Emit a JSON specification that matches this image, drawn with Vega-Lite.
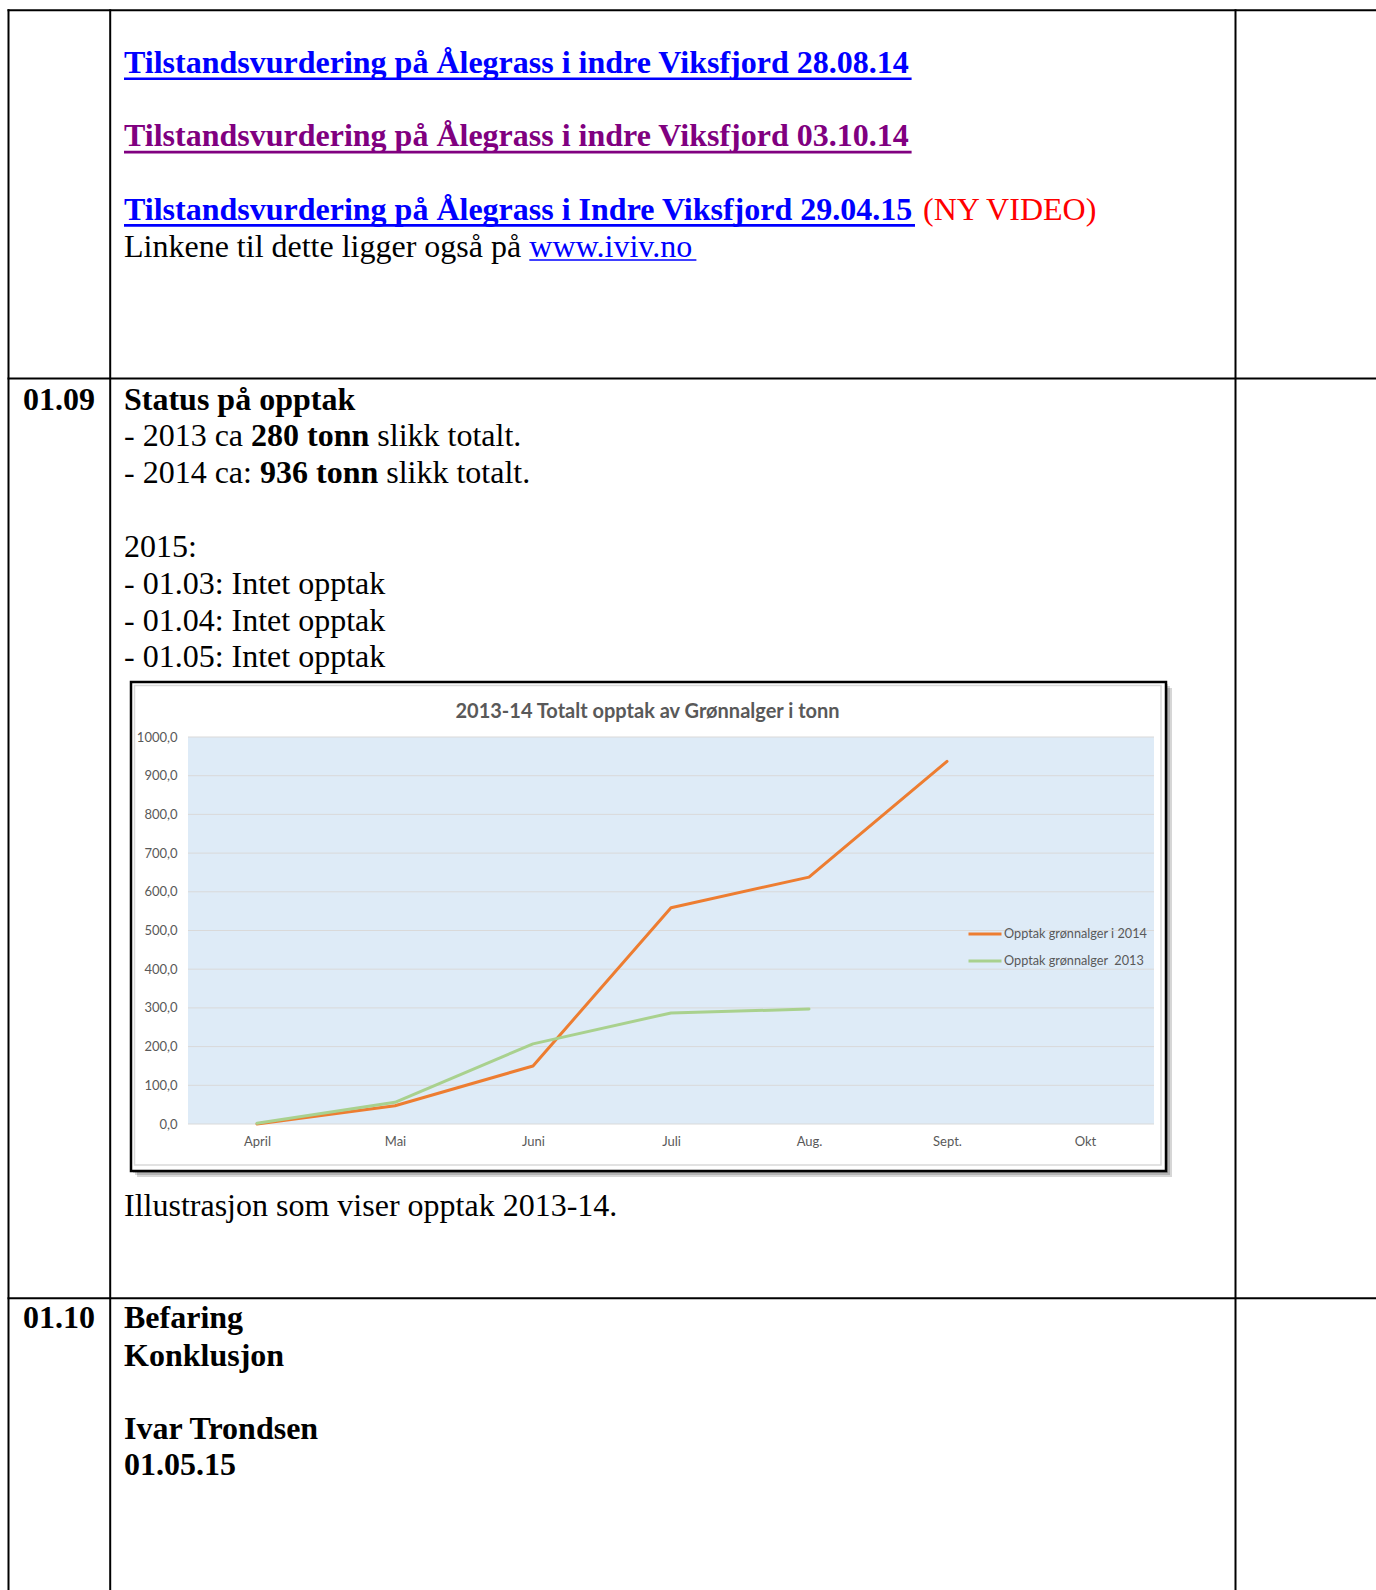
{
  "$schema": "https://vega.github.io/schema/vega-lite/v6.json",
  "width": 1376,
  "height": 1590,
  "padding": 0,
  "autosize": {"type": "none"},
  "background": "#ffffff",
  "config": {"view": {"stroke": null}},
  "datasets": {
    "series": [
      {"m": 0, "v": 0, "s": "Opptak grønnalger i 2014"},
      {"m": 1, "v": 47, "s": "Opptak grønnalger i 2014"},
      {"m": 2, "v": 150, "s": "Opptak grønnalger i 2014"},
      {"m": 3, "v": 559, "s": "Opptak grønnalger i 2014"},
      {"m": 4, "v": 638, "s": "Opptak grønnalger i 2014"},
      {"m": 5, "v": 937, "s": "Opptak grønnalger i 2014"},
      {"m": 0, "v": 2, "s": "Opptak grønnalger  2013"},
      {"m": 1, "v": 56, "s": "Opptak grønnalger  2013"},
      {"m": 2, "v": 207, "s": "Opptak grønnalger  2013"},
      {"m": 3, "v": 287, "s": "Opptak grønnalger  2013"},
      {"m": 4, "v": 297, "s": "Opptak grønnalger  2013"}
    ],
    "grid": [
      {"m": -0.5, "m2": 6.5, "v": 0}, {"m": -0.5, "m2": 6.5, "v": 100}, {"m": -0.5, "m2": 6.5, "v": 200},
      {"m": -0.5, "m2": 6.5, "v": 300}, {"m": -0.5, "m2": 6.5, "v": 400}, {"m": -0.5, "m2": 6.5, "v": 500},
      {"m": -0.5, "m2": 6.5, "v": 600}, {"m": -0.5, "m2": 6.5, "v": 700}, {"m": -0.5, "m2": 6.5, "v": 800},
      {"m": -0.5, "m2": 6.5, "v": 900}, {"m": -0.5, "m2": 6.5, "v": 1000}
    ],
    "plot": [{"m": -0.5, "m2": 6.5, "v": 0, "v2": 1000}],
    "table": [
      {"x": 8.5, "x2": 1376, "y": 10.2, "y2": 10.2},
      {"x": 8.5, "x2": 1376, "y": 378.5, "y2": 378.5},
      {"x": 8.5, "x2": 1376, "y": 1298.3, "y2": 1298.3},
      {"x": 8.5, "x2": 8.5, "y": 10.2, "y2": 1590},
      {"x": 110.2, "x2": 110.2, "y": 10.2, "y2": 1590},
      {"x": 1235.5, "x2": 1235.5, "y": 10.2, "y2": 1590}
    ],
    "shadow": [
      {"x": 133, "x2": 1168, "y": 684, "y2": 1173},
      {"x": 135, "x2": 1170, "y": 686, "y2": 1175},
      {"x": 137, "x2": 1172, "y": 688, "y2": 1177}
    ],
    "frame": [{"x": 131, "x2": 1166, "y": 682, "y2": 1171}],
    "inner": [{"x": 134.5, "x2": 1161, "y": 685.5, "y2": 1165}],
    "charttitle": [{"x": 647.5, "y": 718.3, "text": "2013-14 Totalt opptak av Grønnalger i tonn"}],
    "linkBlue": [
      {"line": 1.833, "x": 124, "x2": 911.6, "text": "Tilstandsvurdering på Ålegrass i indre Viksfjord 28.08.14"},
      {"line": 5.833, "x": 124, "x2": 915, "text": "Tilstandsvurdering på Ålegrass i Indre Viksfjord 29.04.15"}
    ],
    "linkPurple": [
      {"line": 3.833, "x": 124, "x2": 911.6, "text": "Tilstandsvurdering på Ålegrass i indre Viksfjord 03.10.14"}
    ],
    "linkPlain": [
      {"line": 6.85, "x": 529.3, "x2": 696.4, "text": "www.iviv.no"}
    ],
    "redText": [
      {"line": 5.833, "x": 923, "text": "(NY VIDEO)"}
    ],
    "plainText": [
      {"line": 6.85, "x": 124, "text": "Linkene til dette ligger også på"},
      {"line": 12, "x": 124, "text": "- 2013 ca"},
      {"line": 12, "x": 377.3, "text": "slikk totalt."},
      {"line": 13.02, "x": 124, "text": "- 2014 ca:"},
      {"line": 13.02, "x": 386.2, "text": "slikk totalt."},
      {"line": 15.04, "x": 124, "text": "2015:"},
      {"line": 16.04, "x": 124, "text": "- 01.03: Intet opptak"},
      {"line": 17.05, "x": 124, "text": "- 01.04: Intet opptak"},
      {"line": 18.05, "x": 124, "text": "- 01.05: Intet opptak"},
      {"line": 33.03, "x": 124, "text": "Illustrasjon som viser opptak 2013-14."}
    ],
    "boldText": [
      {"line": 11.02, "x": 23, "text": "01.09"},
      {"line": 11.02, "x": 124, "text": "Status på opptak"},
      {"line": 12, "x": 251.1, "text": "280 tonn"},
      {"line": 13.02, "x": 260, "text": "936 tonn"},
      {"line": 36.08, "x": 23, "text": "01.10"},
      {"line": 36.08, "x": 124, "text": "Befaring"},
      {"line": 37.1, "x": 124, "text": "Konklusjon"},
      {"line": 39.1, "x": 124, "text": "Ivar Trondsen"},
      {"line": 40.1, "x": 124, "text": "01.05.15"}
    ]
  },
  "layer": [
    {
      "data": {"name": "table"},
      "mark": {"type": "rule", "color": "#000000", "strokeWidth": 2, "strokeCap": "square"},
      "encoding": {
        "x": {"field": "x", "type": "quantitative", "scale": {"domain": [0, 1376], "range": [0, 1376], "nice": false, "zero": false}, "axis": null},
        "x2": {"field": "x2"},
        "y": {"field": "y", "type": "quantitative", "scale": {"domain": [0, 1590], "range": [0, 1590], "nice": false, "zero": false}, "axis": null},
        "y2": {"field": "y2"}
      }
    },
    {
      "data": {"name": "shadow"},
      "mark": {"type": "rect", "fill": "#000000", "fillOpacity": 0.16},
      "encoding": {
        "x": {"field": "x", "type": "quantitative", "scale": {"domain": [0, 1376], "range": [0, 1376], "nice": false, "zero": false}, "axis": null},
        "x2": {"field": "x2"},
        "y": {"field": "y", "type": "quantitative", "scale": {"domain": [0, 1590], "range": [0, 1590], "nice": false, "zero": false}, "axis": null},
        "y2": {"field": "y2"}
      }
    },
    {
      "data": {"name": "frame"},
      "mark": {"type": "rect", "fill": "#ffffff", "stroke": "#000000", "strokeWidth": 2.5},
      "encoding": {
        "x": {"field": "x", "type": "quantitative", "scale": {"domain": [0, 1376], "range": [0, 1376], "nice": false, "zero": false}, "axis": null},
        "x2": {"field": "x2"},
        "y": {"field": "y", "type": "quantitative", "scale": {"domain": [0, 1590], "range": [0, 1590], "nice": false, "zero": false}, "axis": null},
        "y2": {"field": "y2"}
      }
    },
    {
      "data": {"name": "inner"},
      "mark": {"type": "rect", "fill": null, "fillOpacity": 0, "stroke": "#D9D9D9", "strokeWidth": 1.5},
      "encoding": {
        "x": {"field": "x", "type": "quantitative", "scale": {"domain": [0, 1376], "range": [0, 1376], "nice": false, "zero": false}, "axis": null},
        "x2": {"field": "x2"},
        "y": {"field": "y", "type": "quantitative", "scale": {"domain": [0, 1590], "range": [0, 1590], "nice": false, "zero": false}, "axis": null},
        "y2": {"field": "y2"}
      }
    },
    {
      "encoding": {
        "x": {
          "field": "m", "type": "quantitative",
          "scale": {"domain": [-0.5, 6.5], "range": [188, 1154], "nice": false, "zero": false},
          "axis": {
            "orient": "bottom", "offset": -466, "title": null, "values": [0, 1, 2, 3, 4, 5, 6], "zindex": 2,
            "labelExpr": "['April','Mai','Juni','Juli','Aug.','Sept.','Okt'][datum.value]",
            "domain": false, "ticks": false, "tickSize": 0, "grid": false, "labelFlush": false, "labelOverlap": false,
            "labelBaseline": "alphabetic", "labelPadding": 21.5,
            "labelFont": "Lato", "labelFontSize": 13, "labelColor": "#595959"
          }
        },
        "y": {
          "field": "v", "type": "quantitative",
          "scale": {"domain": [0, 1000], "range": [1124, 737], "nice": false, "zero": false},
          "axis": {
            "orient": "left", "offset": -188, "title": null, "values": [0, 100, 200, 300, 400, 500, 600, 700, 800, 900, 1000], "zindex": 2,
            "labelExpr": "replace(format(datum.value, '.1f'), '.', ',')",
            "domain": false, "ticks": false, "tickSize": 0, "grid": false, "labelFlush": false, "labelOverlap": false,
            "labelPadding": 11, "labelFont": "Lato", "labelFontSize": 13, "labelColor": "#595959"
          }
        }
      },
      "layer": [
        {
          "data": {"name": "plot"},
          "mark": {"type": "rect", "fill": "#DEEBF7"},
          "encoding": {"x2": {"field": "m2"}, "y2": {"field": "v2"}}
        },
        {
          "data": {"name": "grid"},
          "mark": {"type": "rule", "color": "#D9D9D9", "strokeWidth": 1},
          "encoding": {"x2": {"field": "m2"}}
        },
        {
          "data": {"name": "series"},
          "transform": [{"filter": "datum.s == 'Opptak grønnalger i 2014'"}],
          "mark": {"type": "line", "strokeWidth": 3, "strokeCap": "round", "strokeJoin": "round"},
          "encoding": {
            "color": {
              "field": "s", "type": "nominal",
              "scale": {"domain": ["Opptak grønnalger i 2014", "Opptak grønnalger  2013"], "range": ["#ED7D31", "#A9D18E"]},
              "legend": {
                "title": null, "orient": "none", "legendX": 967, "legendY": 916, "padding": 0, "zindex": 2,
                "symbolType": "stroke", "symbolSize": 1089, "symbolStrokeWidth": 3,
                "labelFont": "Lato", "labelFontSize": 12.7, "labelColor": "#595959", "labelOffset": 1, "rowPadding": 2,
                "labelExpr": "replace(datum.label, '  ', '\u00a0 ')"
              }
            }
          }
        },
        {
          "data": {"name": "series"},
          "transform": [{"filter": "datum.s == 'Opptak grønnalger  2013'"}],
          "mark": {"type": "line", "strokeWidth": 3, "strokeCap": "round", "strokeJoin": "round"},
          "encoding": {
            "color": {"field": "s", "type": "nominal"}
          }
        }
      ]
    },
    {
      "data": {"name": "charttitle"},
      "mark": {"type": "text", "align": "center", "baseline": "alphabetic", "font": "Lato", "fontWeight": "bold", "fontSize": 20, "fill": "#595959"},
      "encoding": {
        "x": {"field": "x", "type": "quantitative", "scale": {"domain": [0, 1376], "range": [0, 1376], "nice": false, "zero": false}, "axis": null},
        "y": {"field": "y", "type": "quantitative", "scale": {"domain": [0, 1590], "range": [0, 1590], "nice": false, "zero": false}, "axis": null},
        "text": {"field": "text"}
      }
    },
    {
      "data": {"name": "linkBlue"},
      "layer": [
        {"mark": {"type": "text", "align": "left", "baseline": "alphabetic", "font": "Liberation Serif", "fontWeight": "bold", "fontSize": 32, "fill": "#0000FF"},
         "encoding": {"text": {"field": "text"}}},
        {"mark": {"type": "rule", "color": "#0000FF", "strokeWidth": 2.6, "yOffset": 5.8},
         "encoding": {"x2": {"field": "x2"}}}
      ],
      "encoding": {
        "x": {"field": "x", "type": "quantitative", "scale": {"domain": [0, 1376], "range": [0, 1376], "nice": false, "zero": false}, "axis": null},
        "y": {"field": "line", "type": "quantitative", "scale": {"domain": [0, 40], "range": [5.8, 1471.8], "nice": false, "zero": false}, "axis": null}
      }
    },
    {
      "data": {"name": "linkPurple"},
      "layer": [
        {"mark": {"type": "text", "align": "left", "baseline": "alphabetic", "font": "Liberation Serif", "fontWeight": "bold", "fontSize": 32, "fill": "#800080"},
         "encoding": {"text": {"field": "text"}}},
        {"mark": {"type": "rule", "color": "#800080", "strokeWidth": 2.6, "yOffset": 5.8},
         "encoding": {"x2": {"field": "x2"}}}
      ],
      "encoding": {
        "x": {"field": "x", "type": "quantitative", "scale": {"domain": [0, 1376], "range": [0, 1376], "nice": false, "zero": false}, "axis": null},
        "y": {"field": "line", "type": "quantitative", "scale": {"domain": [0, 40], "range": [5.8, 1471.8], "nice": false, "zero": false}, "axis": null}
      }
    },
    {
      "data": {"name": "linkPlain"},
      "layer": [
        {"mark": {"type": "text", "align": "left", "baseline": "alphabetic", "font": "Liberation Serif", "fontSize": 32, "fill": "#0000FF"},
         "encoding": {"text": {"field": "text"}}},
        {"mark": {"type": "rule", "color": "#0000FF", "strokeWidth": 1.6, "yOffset": 3.2},
         "encoding": {"x2": {"field": "x2"}}}
      ],
      "encoding": {
        "x": {"field": "x", "type": "quantitative", "scale": {"domain": [0, 1376], "range": [0, 1376], "nice": false, "zero": false}, "axis": null},
        "y": {"field": "line", "type": "quantitative", "scale": {"domain": [0, 40], "range": [5.8, 1471.8], "nice": false, "zero": false}, "axis": null}
      }
    },
    {
      "data": {"name": "redText"},
      "mark": {"type": "text", "align": "left", "baseline": "alphabetic", "font": "Liberation Serif", "fontSize": 32, "fill": "#FF0000"},
      "encoding": {
        "x": {"field": "x", "type": "quantitative", "scale": {"domain": [0, 1376], "range": [0, 1376], "nice": false, "zero": false}, "axis": null},
        "y": {"field": "line", "type": "quantitative", "scale": {"domain": [0, 40], "range": [5.8, 1471.8], "nice": false, "zero": false}, "axis": null},
        "text": {"field": "text"}
      }
    },
    {
      "data": {"name": "plainText"},
      "mark": {"type": "text", "align": "left", "baseline": "alphabetic", "font": "Liberation Serif", "fontSize": 32, "fill": "#000000"},
      "encoding": {
        "x": {"field": "x", "type": "quantitative", "scale": {"domain": [0, 1376], "range": [0, 1376], "nice": false, "zero": false}, "axis": null},
        "y": {"field": "line", "type": "quantitative", "scale": {"domain": [0, 40], "range": [5.8, 1471.8], "nice": false, "zero": false}, "axis": null},
        "text": {"field": "text"}
      }
    },
    {
      "data": {"name": "boldText"},
      "mark": {"type": "text", "align": "left", "baseline": "alphabetic", "font": "Liberation Serif", "fontWeight": "bold", "fontSize": 32, "fill": "#000000"},
      "encoding": {
        "x": {"field": "x", "type": "quantitative", "scale": {"domain": [0, 1376], "range": [0, 1376], "nice": false, "zero": false}, "axis": null},
        "y": {"field": "line", "type": "quantitative", "scale": {"domain": [0, 40], "range": [5.8, 1471.8], "nice": false, "zero": false}, "axis": null},
        "text": {"field": "text"}
      }
    }
  ],
  "resolve": {"scale": {"x": "independent", "y": "independent", "color": "independent"}}
}
